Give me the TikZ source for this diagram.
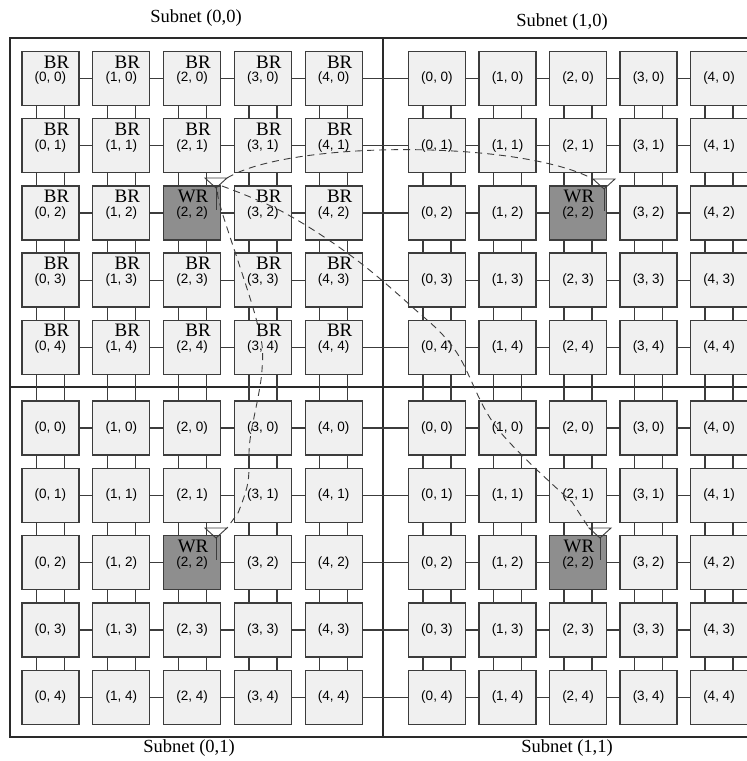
\documentclass[tikz,border=0pt]{standalone}
\usepackage{fontspec}
\setmainfont{Liberation Serif}
\newfontfamily\coordfont{Liberation Sans}
\definecolor{edgec}{HTML}{3C3C3C}
\definecolor{framec}{HTML}{2A2A2A}
\definecolor{boxfill}{HTML}{F0F0F0}
\definecolor{wrfill}{HTML}{8E8E8E}
\begin{document}
\begin{tikzpicture}[x=1pt,y=-1pt,
  router/.style={draw=edgec, line width=1.3pt, fill=boxfill, minimum width=57pt, minimum height=54pt, inner sep=0pt, font=\coordfont\fontsize{13.5}{13.5}\selectfont},
  wrbox/.style={router, fill=wrfill},
  tag/.style={font=\fontsize{19}{19}\selectfont, inner sep=0pt},
  link/.style={draw=edgec, line width=1.2pt},
  frame/.style={draw=framec, line width=1.4pt},
  radio/.style={draw=edgec, line width=0.9pt, dash pattern=on 7pt off 5pt},
  ant/.style={draw=edgec, line width=0.9pt},
  title/.style={font=\fontsize{18.5}{18.5}\selectfont, inner sep=0pt}]
\useasboundingbox[fill=white] (0,0) rectangle (747,761);
% frame
\draw[frame] (747,38) -- (10,38) -- (10,737) -- (747,737);
\draw[frame] (383,38) -- (383,737);
\draw[frame] (10,387) -- (747,387);
% titles
\node[title] (t00) at (196,18) {Subnet (0,0)};
\node[title] (t10) at (562,22) {Subnet (1,0)};
\node[title] (t01) at (189,748) {Subnet (0,1)};
\node[title] (t11) at (567,748) {Subnet (1,1)};
% routers
\foreach \gx in {0,...,9}{
  \foreach \gy in {0,...,9}{
    \pgfmathtruncatemacro\li{mod(\gx,5)}
    \pgfmathtruncatemacro\lj{mod(\gy,5)}
    \pgfmathsetmacro\px{\gx<5 ? 50.5+70.8*\gx : 437+70.5*(\gx-5)}
    \pgfmathsetmacro\py{\gy<5 ? 78.5+67.2*\gy : 428+67.3*(\gy-5)}
    \pgfmathtruncatemacro\iswr{and(\li==2,\lj==2)}
    \pgfmathtruncatemacro\isul{and(\gx<5,\gy<5)}
    \ifnum\iswr=1
      \node[wrbox, label={[tag,xshift=1pt,yshift=16.5pt]center:WR}] (n-\gx-\gy) at (\px,\py) {(\li, \lj)};
    \else\ifnum\isul=1
      \node[router, label={[tag,xshift=6pt,yshift=16.5pt]center:BR}] (n-\gx-\gy) at (\px,\py) {(\li, \lj)};
    \else
      \node[router] (n-\gx-\gy) at (\px,\py) {(\li, \lj)};
    \fi\fi
  }
}
% horizontal links
\foreach \gx in {0,...,8}{
  \pgfmathtruncatemacro\nx{\gx+1}
  \foreach \gy in {0,...,9}{
    \draw[link] (n-\gx-\gy.east) -- (n-\nx-\gy.west);
  }
}
% vertical links (two per pair)
\foreach \gx in {0,...,9}{
  \foreach \gy in {0,...,8}{
    \pgfmathtruncatemacro\ny{\gy+1}
    \draw[link] ([xshift=-14pt]n-\gx-\gy.south) -- ([xshift=-14pt]n-\gx-\ny.south |- n-\gx-\ny.north);
    \draw[link] ([xshift=14pt]n-\gx-\gy.south) -- ([xshift=14pt]n-\gx-\ny.south |- n-\gx-\ny.north);
  }
}
% antennas
\coordinate (aUL) at (216,188);
\coordinate (aUR) at (604,189);
\coordinate (aLL) at (216,538);
\coordinate (aLR) at (600,538);
\foreach \a in {aUL,aUR,aLL,aLR}{
  \draw[ant] (\a) -- ++(-11,-10) coordinate (\a-l) -- ++(22,0) coordinate (\a-r) -- cycle;
  \draw[ant] (\a) -- ++(0,22);
}
% wireless paths
\draw[radio] (aUL-r) .. controls (290,140) and (520,140) .. (aUR-l);
\draw[radio] (aUL) plot[smooth, tension=0.6] coordinates {(222,186) (283,212) (350,255) (410,305) (455,350) (497,428) (572,502)} -- (aLR-l);
\draw[radio] (aUL) plot[smooth, tension=0.6] coordinates {(218,192) (222,212) (257,322) (262,370) (250,440) (248,482) (238,513)} -- (aLL-r);
\end{tikzpicture}
\end{document}
